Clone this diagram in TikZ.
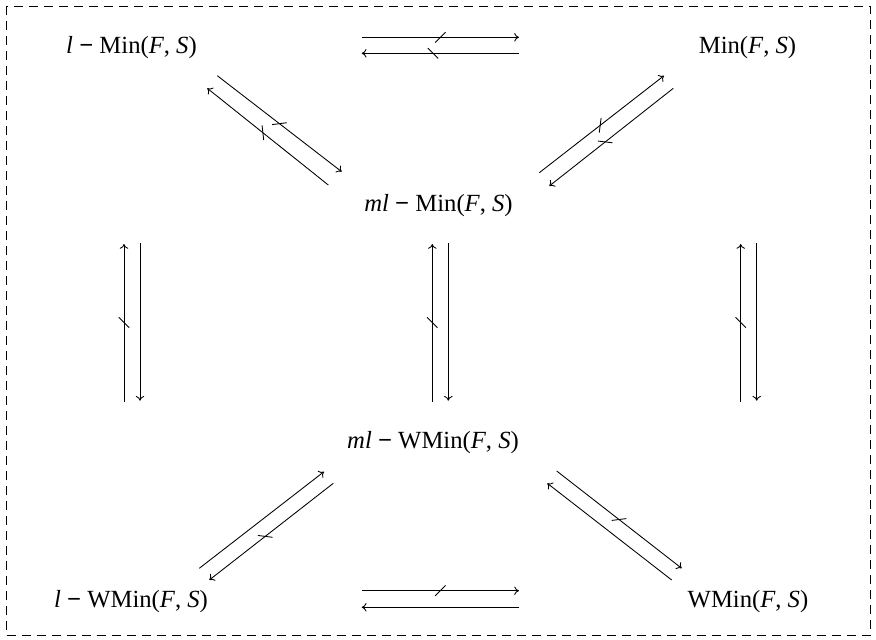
\documentclass[tikz,border=0pt]{standalone}
\usepackage{fontspec}
\setmainfont{Liberation Serif}
\usetikzlibrary{arrows.meta,decorations.markings}
\newcommand{\mminus}{\textbf{−}}
\begin{document}
\begin{tikzpicture}[x=0.75pt,y=-0.75pt,
  lab/.style={anchor=base,inner sep=0pt,font=\fontsize{18.5}{22}\selectfont},
  arr/.style={line width=0.65pt,-{To[length=3.6pt,width=6.4pt]}},
  % crossing bar leaning +45 degrees from the arrow direction
  barA/.style={postaction={decorate,decoration={markings,
    mark=at position #1 with {\draw[-,line width=0.65pt] (-3.9pt,-3.9pt) -- (3.9pt,3.9pt);}}}},
  % crossing bar leaning -45 degrees from the arrow direction
  barB/.style={postaction={decorate,decoration={markings,
    mark=at position #1 with {\draw[-,line width=0.65pt] (-3.9pt,3.9pt) -- (3.9pt,-3.9pt);}}}},
  frame/.style={line width=0.6pt,dash pattern=on 6.75pt off 4.5pt}
]
\useasboundingbox (0,0) rectangle (876,640);
\draw[frame] (6,6) rectangle (870,635.5);

% the six sets
\node[lab] (TL) at (131.5,53) {\textit{l} \mminus{} Min(\textit{F}, \textit{S})};
\node[lab] (TR) at (747.5,53) {Min(\textit{F}, \textit{S})};
\node[lab] (MM) at (438.5,211) {\textit{ml} \mminus{} Min(\textit{F}, \textit{S})};
\node[lab] (MW) at (433,448) {\textit{ml} \mminus{} WMin(\textit{F}, \textit{S})};
\node[lab] (BL) at (131,607) {\textit{l} \mminus{} WMin(\textit{F}, \textit{S})};
\node[lab] (BR) at (748,607) {WMin(\textit{F}, \textit{S})};

% top row
\draw[arr,barA=0.5] ([shift={(230.2,-15.7)}]TL.base) -- ([shift={(-228.5,-15.7)}]TR.base);
\draw[arr,barB=0.547] ([shift={(-228.5,0.3)}]TR.base) -- ([shift={(230.2,0.3)}]TL.base);

% upper diagonals
\draw[arr,barA=0.5] ([shift={(85.8,22.7)}]TL.base) -- ([shift={(-96.8,-39.3)}]MM.base);
\draw[arr,barB=0.541] ([shift={(-110.2,-26)}]MM.base) -- ([shift={(75.8,35.3)}]TL.base);
\draw[arr,barA=0.49] ([shift={(100.8,-38.3)}]MM.base) -- ([shift={(-83.5,22.7)}]TR.base);
\draw[arr,barB=0.55] ([shift={(-74.2,35.3)}]TR.base) -- ([shift={(110.8,-25)}]MM.base);

% verticals
\draw[arr,barA=0.502] ([shift={(-7,-205.3)}]BL.base) -- ([shift={(-7.5,191)}]TL.base);
\draw[arr] ([shift={(8.5,190.3)}]TL.base) -- ([shift={(9,-206.3)}]BL.base);
\draw[arr,barA=0.502] ([shift={(-0.7,-46.3)}]MW.base) -- ([shift={(-6.2,33)}]MM.base);
\draw[arr] ([shift={(9.8,32.3)}]MM.base) -- ([shift={(15.3,-47.3)}]MW.base);
\draw[arr,barA=0.502] ([shift={(-7.3,-205.3)}]BR.base) -- ([shift={(-6.8,191)}]TR.base);
\draw[arr] ([shift={(9.2,190.3)}]TR.base) -- ([shift={(8.7,-206.3)}]BR.base);

% lower diagonals
\draw[arr] ([shift={(68.3,-38.7)}]BL.base) -- ([shift={(-109,23.7)}]MW.base);
\draw[arr,barB=0.55] ([shift={(-99.7,35.3)}]MW.base) -- ([shift={(78.3,-27)}]BL.base);
\draw[arr,barA=0.5] ([shift={(123.7,23)}]MW.base) -- ([shift={(-66.3,-38.7)}]BR.base);
\draw[arr] ([shift={(-76.3,-27)}]BR.base) -- ([shift={(114.3,35.3)}]MW.base);

% bottom row
\draw[arr,barA=0.5] ([shift={(230.7,-16.3)}]BL.base) -- ([shift={(-229,-16.3)}]BR.base);
\draw[arr] ([shift={(-229,0.3)}]BR.base) -- ([shift={(230.7,0.3)}]BL.base);
\end{tikzpicture}
\end{document}
